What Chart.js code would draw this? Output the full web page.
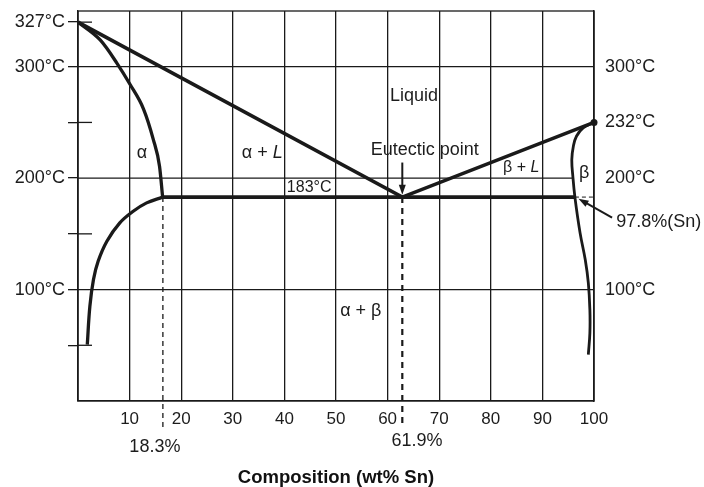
<!DOCTYPE html>
<html>
<head>
<meta charset="utf-8">
<script src="https://cdn.jsdelivr.net/npm/chart.js@4.4.1/dist/chart.umd.min.js"></script>
<style>
  html, body { margin: 0; padding: 0; background: #fff; }
</style>
</head>
<body>
<canvas id="myChart" width="704" height="487"></canvas>
<script>
// ---- data (x = wt% Sn, y = plotted temperature) ----
const liquidusX = [0, 62.85, 100];
const liquidusY = [340, 183, 250];

const eutecticX = [16.4, 96.3];
const eutecticY = [183, 183];

const alphaSolidusX = [0, 4.3, 7.5, 10.1, 12.7, 14.6, 15.8, 16.4];
const alphaSolidusY = [340, 324, 303.5, 284, 262, 234.6, 210.7, 183];

const alphaSolvusX = [16.4, 13.3, 10.7, 8.1, 5.6, 3.9, 3.0, 2.3, 1.8];
const alphaSolvusY = [183, 177.8, 170.3, 159.9, 143.4, 125.4, 109, 85, 50.5];

const betaX = [100, 97.9, 96.6, 96.0, 95.7, 95.9, 96.3, 97.3, 98.3, 98.9, 99.2, 99.2, 98.9];
const betaY = [250, 245.2, 237.6, 228.6, 216.7, 201.7, 183, 150.9, 126.9, 106, 82, 61, 41.7];

const alphaMaxX = [16.45, 16.45];
const eutecticCompX = [62.85, 62.85];
const guideY = [183, -24];
const betaMaxX = [96.3, 100];

// ---- axis ticks ----
const xTicks = [10, 20, 30, 40, 50, 60, 70, 80, 90, 100];
const leftTickVals = [50, 100, 150, 200, 250, 300, 340];
const leftTickLabels = ['', '100°C', '', '200°C', '', '300°C', '327°C'];
const gridTemps = [100, 200, 300];
const gridEnds = [100, 95.8, 100];   // 200°C line stops at the beta boundary
const rightTickVals = [100, 200, 250, 300];
const rightTickLabels = ['100°C', '200°C', '232°C', '300°C'];

// ---- text in the diagram ----
const regionLabels = [
  { parts: [['Liquid', false]], x: 65.1, y: 274 },
  { parts: [['α + ', false], ['L', true]], x: 35.7, y: 222.6 },
  { parts: [['α', false]], x: 12.4, y: 222.6 },
  { parts: [['183°C', false]], x: 44.8, y: 191.5, size: 16 },
  { parts: [['β + ', false], ['L', true]], x: 85.9, y: 209.5, size: 16 },
  { parts: [['β', false]], x: 98.1, y: 204.7 },
  { parts: [['α + β', false]], x: 54.8, y: 80.8 },
  { parts: [['Eutectic point', false]], x: 67.2, y: 225.5 },
  { parts: [['18.3%', false]], x: 14.9, y: -41.5 },
  { parts: [['61.9%', false]], x: 65.7, y: -36 },
  { parts: [['97.8%(Sn)', false]], x: 104.3, y: 160.5, align: 'left' }
];
const arrows = [
  { from: [62.85, 214], to: [62.85, 185] },
  { from: [103.5, 164.5], to: [97.0, 181.5] }
];

const FONT = "'Liberation Sans', Arial, sans-serif";
const INK = '#1a1a1a';

function pts(xs, ys) {
  return xs.map((v, i) => ({ x: v, y: ys[i] }));
}

function curve(xs, ys, width, extra) {
  return Object.assign({
    data: pts(xs, ys),
    showLine: true,
    borderColor: INK,
    backgroundColor: INK,
    borderWidth: width,
    pointRadius: 0,
    tension: 0.4
  }, extra || {});
}

// horizontal grid + inner tick stubs (under the curves)
const gridPlugin = {
  id: 'tempGrid',
  beforeDatasetsDraw(chart) {
    const { ctx, chartArea: a, scales: { x, y } } = chart;
    ctx.save();
    ctx.strokeStyle = INK;
    ctx.lineWidth = 1.3;
    leftTickVals.forEach(v => {
      const py = y.getPixelForValue(v);
      const gi = gridTemps.indexOf(v);
      const end = gi >= 0 ? x.getPixelForValue(gridEnds[gi]) : a.left + 14;
      ctx.beginPath();
      ctx.moveTo(a.left, py);
      ctx.lineTo(end, py);
      ctx.stroke();
    });
    ctx.restore();
  }
};

// box, arrows and labels
const diagramPlugin = {
  id: 'diagram',
  afterDatasetsDraw(chart) {
    const { ctx, chartArea: a, scales: { x, y } } = chart;
    ctx.save();
    ctx.strokeStyle = INK;
    ctx.lineWidth = 1.3;
    ctx.strokeRect(a.left, a.top, a.right - a.left, a.bottom - a.top);

    // arrows
    ctx.fillStyle = INK;
    arrows.forEach(ar => {
      const x1 = x.getPixelForValue(ar.from[0]), y1 = y.getPixelForValue(ar.from[1]);
      const x2 = x.getPixelForValue(ar.to[0]), y2 = y.getPixelForValue(ar.to[1]);
      const ang = Math.atan2(y2 - y1, x2 - x1);
      ctx.lineWidth = 2;
      ctx.beginPath();
      ctx.moveTo(x1, y1);
      ctx.lineTo(x2 - 6 * Math.cos(ang), y2 - 6 * Math.sin(ang));
      ctx.stroke();
      ctx.beginPath();
      ctx.moveTo(x2, y2);
      ctx.lineTo(x2 - 10 * Math.cos(ang) + 3.5 * Math.sin(ang), y2 - 10 * Math.sin(ang) - 3.5 * Math.cos(ang));
      ctx.lineTo(x2 - 10 * Math.cos(ang) - 3.5 * Math.sin(ang), y2 - 10 * Math.sin(ang) + 3.5 * Math.cos(ang));
      ctx.closePath();
      ctx.fill();
    });

    // labels
    ctx.textBaseline = 'middle';
    ctx.textAlign = 'left';
    ctx.fillStyle = '#1c1c1c';
    regionLabels.forEach(l => {
      const size = l.size || 18;
      let total = 0;
      l.parts.forEach(p => {
        ctx.font = (p[1] ? 'italic ' : '') + size + 'px ' + FONT;
        total += ctx.measureText(p[0]).width;
      });
      let px = x.getPixelForValue(l.x);
      if (l.align !== 'left') px -= total / 2;
      const py = y.getPixelForValue(l.y);
      l.parts.forEach(p => {
        ctx.font = (p[1] ? 'italic ' : '') + size + 'px ' + FONT;
        ctx.fillText(p[0], px, py);
        px += ctx.measureText(p[0]).width;
      });
    });
    ctx.restore();
  }
};

function fixVertical(width) {
  return function (s) {
    s.width = width;
    s.paddingTop = 0;
    s.paddingBottom = 0;
  };
}

const ctx = document.getElementById('myChart').getContext('2d');
const myChart = new Chart(ctx, {
  type: 'scatter',
  data: {
    datasets: [
      curve(liquidusX, liquidusY, 3.6, { tension: 0 }),
      curve(eutecticX, eutecticY, 3.6, { tension: 0 }),
      curve(alphaSolidusX, alphaSolidusY, 3.3, { cubicInterpolationMode: 'monotone' }),
      curve(alphaSolvusX, alphaSolvusY, 3.3),
      curve(betaX, betaY, 2.8),
      curve(alphaMaxX, guideY, 1.3, { tension: 0, borderDash: [5, 4], clip: false }),
      curve(eutecticCompX, guideY, 2.2, { tension: 0, borderDash: [6, 5], clip: false }),
      curve(betaMaxX, eutecticY, 1, { tension: 0, borderDash: [4, 3] }),
      // melting point dot of Sn
      { data: [{ x: 100, y: 250 }], pointRadius: 3.5, backgroundColor: INK, borderWidth: 0, clip: false }
    ]
  },
  options: {
    responsive: false,
    animation: false,
    layout: { padding: { top: 11, left: 0, right: 0, bottom: 0 } },
    plugins: {
      legend: { display: false },
      tooltip: { enabled: false }
    },
    scales: {
      x: {
        type: 'linear',
        min: 0,
        max: 100,
        afterFit(s) { s.height = 86; s.paddingLeft = 0; s.paddingRight = 0; },
        afterBuildTicks(s) { s.ticks = [0].concat(xTicks).map(v => ({ value: v })); },
        ticks: {
          color: '#1c1c1c',
          font: { family: FONT, size: 17 },
          padding: 8,
          maxRotation: 0,
          callback: v => (xTicks.includes(v) ? String(v) : '')
        },
        grid: { color: INK, lineWidth: 1.3, drawTicks: false },
        border: { display: true, color: INK, width: 1.3 },
        title: {
          display: true,
          text: 'Composition (wt% Sn)',
          color: '#111',
          font: { family: FONT, size: 18.5, weight: 'bold', lineHeight: 1 },
          padding: { top: 0, bottom: 0 }
        }
      },
      y: {
        type: 'linear',
        position: 'left',
        min: 0,
        max: 350,
        afterFit: fixVertical(78),
        afterBuildTicks(s) { s.ticks = leftTickVals.map(v => ({ value: v })); },
        ticks: {
          color: '#1c1c1c',
          font: { family: FONT, size: 18 },
          padding: 3,
          callback: v => leftTickLabels[leftTickVals.indexOf(v)]
        },
        grid: {
          color: 'rgba(0,0,0,0)',
          tickColor: INK,
          tickLength: 10,
          lineWidth: 1.3
        },
        border: { display: true, color: INK, width: 1.3 }
      },
      y2: {
        type: 'linear',
        position: 'right',
        min: 0,
        max: 350,
        afterFit: fixVertical(110),
        afterBuildTicks(s) { s.ticks = rightTickVals.map(v => ({ value: v })); },
        ticks: {
          color: '#1c1c1c',
          font: { family: FONT, size: 18 },
          padding: 11,
          callback: v => rightTickLabels[rightTickVals.indexOf(v)]
        },
        grid: { drawOnChartArea: false, drawTicks: false },
        border: { display: true, color: INK, width: 1.3 }
      }
    }
  },
  plugins: [gridPlugin, diagramPlugin]
});
</script>
</body>
</html>
